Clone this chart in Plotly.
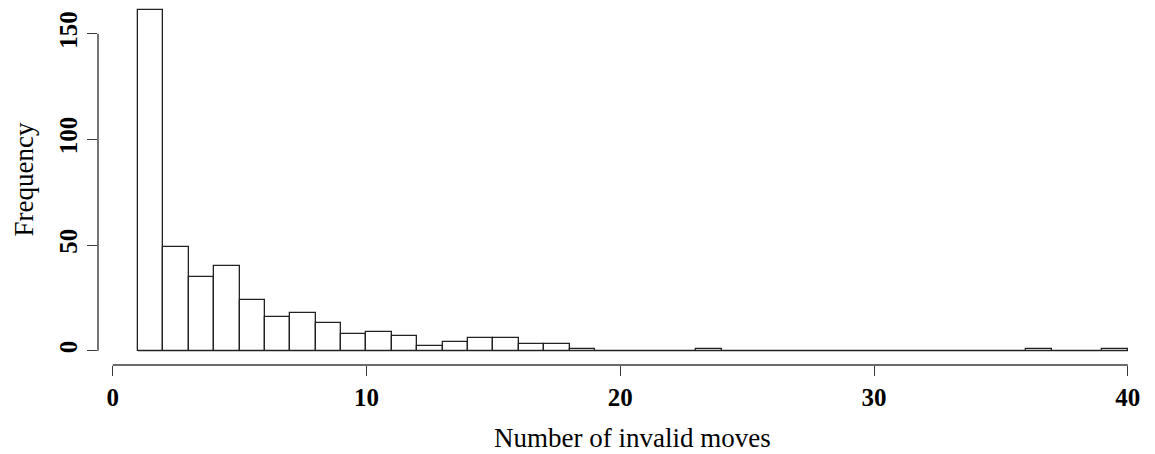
import plotly.graph_objects as go

# Histogram data: bins of width 1 from 1 to 40
bin_edges = list(range(1, 41))
counts = [161, 49, 35, 40, 24, 16, 18, 13, 8, 9,
          7, 2, 4, 6, 6, 3, 3, 1, 0, 0,
          0, 0, 1, 0, 0, 0, 0, 0, 0, 0,
          0, 0, 0, 0, 0, 1, 0, 0, 1]
x_ticks = [0, 10, 20, 30, 40]
y_ticks = [0, 50, 100, 150]

centers = [(bin_edges[i] + bin_edges[i + 1]) / 2 for i in range(len(counts))]
widths = [bin_edges[i + 1] - bin_edges[i] for i in range(len(counts))]

LINE = "#3a3a3a"
FONT = "Liberation Serif"

fig = go.Figure()
fig.add_trace(go.Bar(
    x=centers, y=counts, width=widths,
    marker=dict(color="white", line=dict(color="#222222", width=1.3)),
    showlegend=False, hoverinfo="x+y",
))

# baseline across the binned range (R draws zero-height bins as a line)
fig.add_shape(type="line", xref="x", yref="y",
              x0=bin_edges[0], x1=bin_edges[-1], y0=0, y1=0,
              line=dict(color="#222222", width=1.3))

# R-style axis lines spanning first to last tick
fig.add_shape(type="line", xref="x", yref="paper",
              x0=x_ticks[0], x1=x_ticks[-1], y0=0, y1=0,
              line=dict(color=LINE, width=1.4))
fig.add_shape(type="line", xref="paper", yref="y",
              x0=0, x1=0, y0=y_ticks[0], y1=y_ticks[-1],
              line=dict(color=LINE, width=1.4))

fig.update_layout(
    width=1155, height=454,
    margin=dict(l=98, r=0, t=0, b=89),
    plot_bgcolor="white", paper_bgcolor="white",
    bargap=0,
    xaxis=dict(range=[-0.579, 41.07], tickvals=x_ticks, ticktext=[str(v) for v in x_ticks],
               showgrid=False, zeroline=False, showline=False,
               ticks="outside", ticklen=10, tickwidth=1.4, tickcolor=LINE,
               tickfont=dict(family=FONT, size=25, color="black", weight="bold")),
    yaxis=dict(range=[-6.77, 165.95], tickvals=y_ticks, ticktext=[str(v) for v in y_ticks],
               showgrid=False, zeroline=False, showline=False,
               ticks="outside", ticklen=10, tickwidth=1.4, tickcolor=LINE,
               tickangle=-90,
               tickfont=dict(family=FONT, size=25, color="black", weight="bold")),
    annotations=[
        dict(text="Number of invalid moves", xref="x", yref="paper",
             x=20.5, y=0, yanchor="middle", yshift=-(438 - 365), showarrow=False,
             font=dict(family=FONT, size=27, color="black")),
        dict(text="Frequency", xref="paper", yref="paper", x=0, y=0.5,
             xanchor="center", yanchor="middle", xshift=-(98 - 23.5), yshift=2.5,
             textangle=-90, showarrow=False,
             font=dict(family=FONT, size=27, color="black")),
    ],
)

fig.write_html("out.html")
